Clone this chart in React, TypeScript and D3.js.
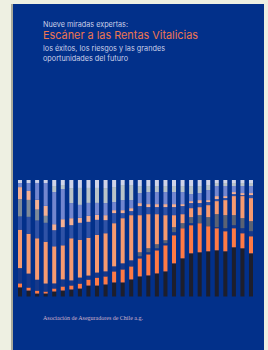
import React from 'react';
import * as d3 from 'd3';

// one entry per bar, left to right (28 periods)
const periods = d3.range(28).map(i => `p${i + 1}`);

// stacked shares per bar, bottom to top
const black = [9, 6, 3, 3, 5, 6, 7, 8, 11, 11, 12, 14, 14, 17, 20, 21, 23, 25, 33, 38, 43, 44, 45, 46, 45, 49, 48, 43];
const orange = [4, 3, 3, 2, 3, 4, 4, 5, 6, 8, 8, 11, 13, 13, 18, 21, 23, 26, 28, 30, 28, 29, 25, 22, 20, 19, 15, 17];
const navy = [15, 14, 11, 8, 5, 7, 5, 6, 4, 5, 5, 5, 6, 6, 2, 2, 2, 2, 3, 0, 2, 0, 0, 1, 3, 3, 5, 5];
const slate = [0, 0, 0, 0, 0, 0, 0, 0, 0, 0, 0, 0, 0, 0, 4, 4, 4, 3, 5, 5, 6, 8, 9, 13, 13, 10, 10, 10];
const salmon = [38, 40, 42, 42, 37, 34, 42, 38, 38, 38, 38, 43, 45, 45, 37, 34, 30, 25, 12, 9, 9, 8, 12, 13, 15, 19, 22, 23];
const midBlue = [13, 17, 18, 19, 16, 18, 13, 17, 16, 15, 13, 10, 5, 4, 9, 7, 7, 8, 8, 8, 5, 4, 3, 2, 2, 2, 1, 3];
const steel = [17, 17, 11, 7, 0, 0, 0, 0, 0, 0, 0, 0, 0, 0, 0, 0, 0, 0, 0, 0, 0, 0, 0, 0, 0, 0, 0, 0];
const lightSalmon = [12, 9, 10, 10, 6, 8, 7, 5, 6, 5, 5, 3, 3, 3, 3, 3, 3, 3, 3, 2, 2, 3, 2, 3, 2, 2, 2, 2];
const lavender = [4, 8, 17, 23, 32, 30, 15, 13, 13, 12, 12, 8, 10, 8, 10, 12, 12, 12, 12, 12, 7, 7, 10, 10, 10, 6, 7, 7];
const pale = [0, 0, 0, 0, 6, 4, 15, 17, 15, 15, 15, 15, 15, 15, 7, 6, 6, 6, 6, 6, 8, 7, 5, 3, 3, 3, 3, 3];
const topGray = [3, 3, 3, 3, 6, 5, 8, 8, 8, 8, 8, 7, 5, 5, 6, 6, 6, 6, 6, 6, 6, 6, 5, 3, 3, 3, 3, 3];

const seriesNames = ['black', 'orange', 'navy', 'slate', 'salmon', 'midBlue', 'steel', 'lightSalmon', 'lavender', 'pale', 'topGray'];
const seriesValues = [black, orange, navy, slate, salmon, midBlue, steel, lightSalmon, lavender, pale, topGray];
const seriesColors = ['#1d1e2c', '#ff7a45', '#173889', '#5b6273', '#f79a70', '#2f52a6', '#7d8a9a', '#f5b093', '#7286cf', '#b9c3c8', '#cfd3e8'];

const titleLines = ['Nueve miradas expertas:', 'Escáner a las Rentas Vitalicias', 'los éxitos, los riesgos y las grandes', 'oportunidades del futuro'];
const publisher = 'Asociación de Aseguradores de Chile a.g.';

export default function App() {
  const width = 268;
  const height = 350;

  const rows = periods.map((p, i) => {
    const row: Record<string, any> = { period: p };
    seriesNames.forEach((s, j) => { row[s] = seriesValues[j][i]; });
    return row;
  });

  const stacked = d3.stack<any>()
    .keys(seriesNames)
    .offset(d3.stackOffsetExpand)(rows);

  const x = d3.scaleBand()
    .domain(periods)
    .range([18, 253])
    .paddingInner(0.53)
    .paddingOuter(0);

  const y = d3.scaleLinear()
    .domain([0, 1])
    .range([296.5, 180]);

  const color = d3.scaleOrdinal<string, string>().domain(seriesNames).range(seriesColors);

  return (
    <svg width={width} height={height} style={{ position: 'absolute', left: 0, top: 0 }}>
      <rect x={0} y={0} width={width} height={height} fill="#eef0e2" />
      <rect x={11} y={4} width={3} height={height - 4} fill="#a9aa9c" />
      <rect x={13} y={4} width={251} height={height - 4} fill="#02308a" />

      <text x={43} y={26.5} fontFamily="Inter, sans-serif" fontSize={7.6} fill="#c9cfe8" textLength={85} lengthAdjust="spacingAndGlyphs">{titleLines[0]}</text>
      <text x={43} y={39.3} fontFamily="Inter, sans-serif" fontSize={11} fill="#ee7650" textLength={155} lengthAdjust="spacingAndGlyphs">{titleLines[1]}</text>
      <text x={43} y={50.6} fontFamily="Inter, sans-serif" fontSize={7.6} fill="#c9cfe8" textLength={122} lengthAdjust="spacingAndGlyphs">{titleLines[2]}</text>
      <text x={43} y={60.6} fontFamily="Inter, sans-serif" fontSize={7.6} fill="#c9cfe8" textLength={85} lengthAdjust="spacingAndGlyphs">{titleLines[3]}</text>

      <g>
        {stacked.map(layer => (
          <g key={layer.key} fill={color(layer.key)}>
            {layer.map((d, i) => (
              <rect
                key={i}
                x={x(periods[i])}
                y={y(d[1])}
                width={x.bandwidth()}
                height={Math.max(0, y(d[0]) - y(d[1]))}
              />
            ))}
          </g>
        ))}
      </g>

      <text x={43} y={320} fontFamily="'Liberation Serif', serif" fontSize={5.6} fill="#d2b4cc" textLength={100} lengthAdjust="spacingAndGlyphs">{publisher}</text>
    </svg>
  );
}
